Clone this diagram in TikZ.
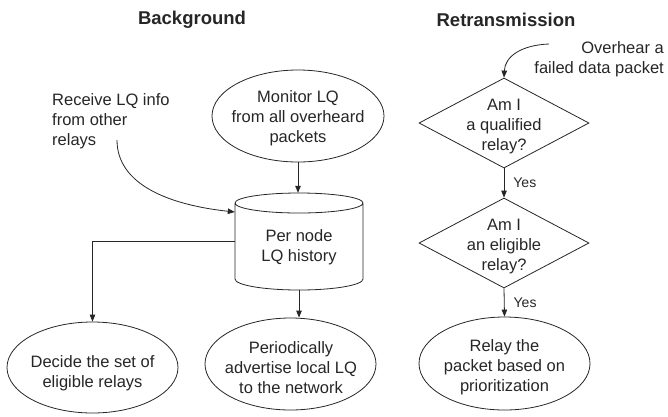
\documentclass[tikz,border=0pt]{standalone}
\usepackage{fontspec}
\setmainfont{Liberation Sans}
\usetikzlibrary{shapes.geometric,arrows.meta}

\tikzset{
  txt/.style={font=\fontsize{16.5}{20}\selectfont, align=center, inner sep=0pt},
  title/.style={font=\fontsize{18.5}{22}\selectfont\bfseries, inner sep=0pt},
  small/.style={font=\fontsize{14}{17}\selectfont, inner sep=0pt},
  oval/.style={ellipse, draw, line width=0.8pt, inner sep=0pt},
  decision/.style={diamond, draw, line width=0.8pt, inner sep=0pt,
    minimum width=170pt, minimum height=90pt},
  link/.style={line width=0.8pt, -{Triangle[length=7pt,width=5.5pt]}},
}

\begin{document}
\begin{tikzpicture}[x=1pt, y=-1pt, color=black!85]
\useasboundingbox (0,0) rectangle (668,416);

% Titles
\node[title] (ttlA) at (192,20) {Background};
\node[title] (ttlB) at (506,20) {Retransmission};

% ---------------- Background column ----------------
\node[oval, minimum width=172pt, minimum height=92pt] (mon) at (298,116) {};
\node[txt] (monT) at (298,118) {Monitor LQ\\from all overheard\\packets};

% database cylinder
\node[minimum width=128pt, minimum height=97pt, inner sep=0pt] (db) at (299,241.5) {};
\draw[line width=0.8pt]
  (299,203) ellipse[x radius=64pt, y radius=10pt]
  (235,203) -- (235,279)
  (363,203) -- (363,279)
  (235,279) arc[start angle=180, end angle=360, x radius=64pt, y radius=11pt];
\node[txt] (dbT) at (299,247) {Per node\\LQ history};

\node[txt, anchor=west, align=left] (recv) at (52,121) {Receive LQ info\\from other\\relays};
\coordinate (recvEnd) at (117,140);

\node[oval, minimum width=171pt, minimum height=91pt] (dec) at (92.5,367.5) {};
\node[txt] (decT) at (92.5,373) {Decide the set of\\eligible relays};

\node[oval, minimum width=171pt, minimum height=92pt] (per) at (290.5,364) {};
\node[txt] (perT) at (291,368) {Periodically\\advertise local LQ\\to the network};

\draw[link] (mon.south) -- (mon.south |- db.north);
\draw[link] (recvEnd) .. controls (117,185) and (170,205) .. ([yshift=29.5pt]db.west);
\draw[link] (db.west) -| (dec.north);
\draw[link] (db.south) -- (db.south |- per.north);

% ---------------- Retransmission column ----------------
\node[txt, anchor=east, align=right] (hear) at (664,59) {Overhear a\\failed data packet};
\coordinate (hearEnd) at (549,44);

\node[decision] (q1) at (504,123) {};
\node[txt] (q1T) at (504,127) {Am I\\a qualified\\relay?};

\node[decision] (q2) at (504,243) {};
\node[txt] (q2T) at (504,247) {Am I\\an eligible\\relay?};

\node[oval, minimum width=171pt, minimum height=93pt] (relay) at (504.5,363.5) {};
\node[txt] (relayT) at (504.5,367) {Relay the\\packet based on\\prioritization};

\draw[link] (hearEnd) .. controls (522,45) and (505,56) .. (q1.north);
\draw[link] (q1.south) -- node[small, anchor=west, xshift=9pt] (yes1) {Yes} (q2.north);
\draw[link] (q2.south) -- node[small, anchor=west, xshift=9pt] (yes2) {Yes} (relay.north);
\end{tikzpicture}
\end{document}
